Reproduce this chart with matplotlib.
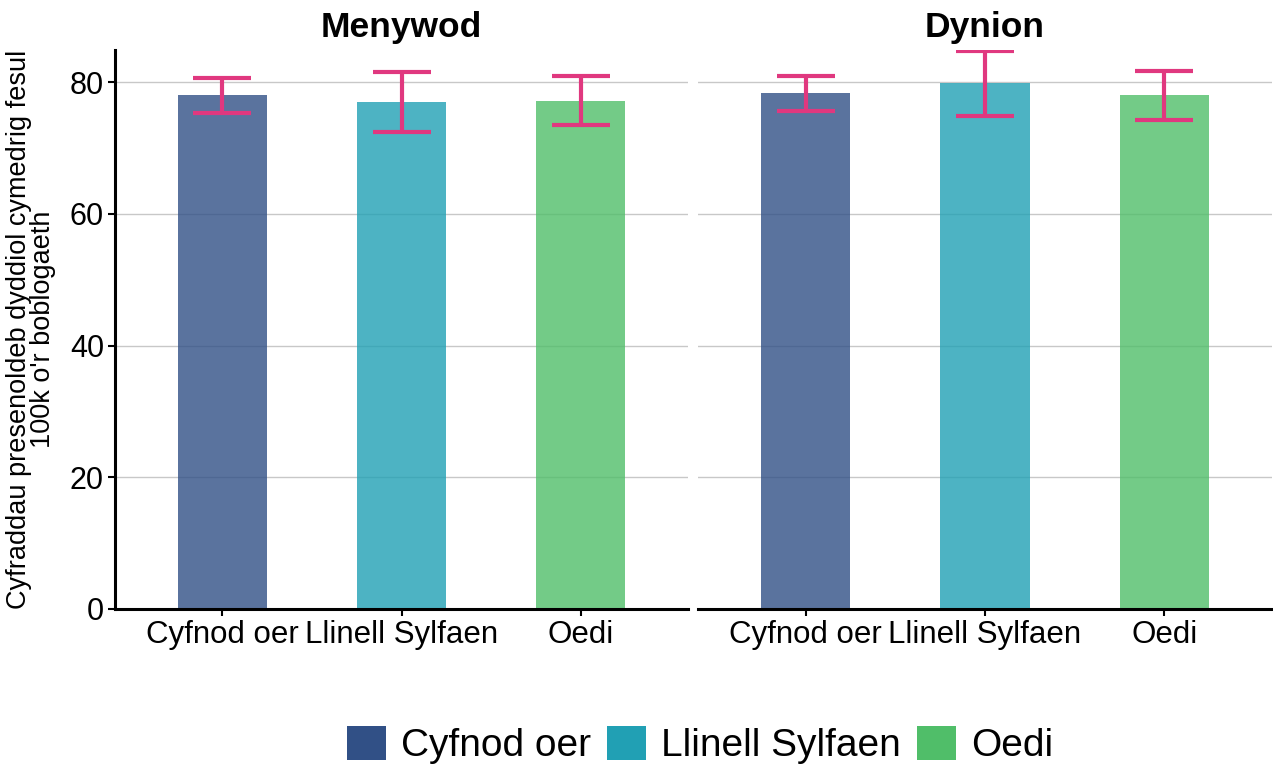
import matplotlib
import matplotlib.pyplot as plt
import numpy as np
from matplotlib.patches import Patch

matplotlib.use("Agg")

plt.rcParams["font.family"] = ["Liberation Sans", "DejaVu Sans"]

# data
panels = ["Menywod", "Dynion"]
categories = ["Cyfnod oer", "Llinell Sylfaen", "Oedi"]
means = {
    "Menywod": [78.0, 77.0, 77.2],
    "Dynion": [78.3, 79.95, 78.0],
}
lower = {
    "Menywod": [75.4, 72.4, 73.5],
    "Dynion": [75.7, 74.9, 74.3],
}
upper = {
    "Menywod": [80.7, 81.6, 80.9],
    "Dynion": [80.9, 84.7, 81.7],
}
y_ticks = [0, 20, 40, 60, 80]

colors = ["#315086", "#21A0B4", "#50BE69"]
err_color = "#E0387F"
W, H = 1273, 769

fig = plt.figure(figsize=(W / 100, H / 100), dpi=100)
ax_boxes = [(115, 573), (698, 574)]
top, bottom = 50, 609

for i, (name, (x0, w)) in enumerate(zip(panels, ax_boxes)):
    ax = fig.add_axes([x0 / W, 1 - bottom / H, w / W, (bottom - top) / H])
    x = np.arange(len(categories))
    m = np.array(means[name])
    lo = m - np.array(lower[name])
    hi = np.array(upper[name]) - m
    ax.bar(x, m, width=0.5, color=colors, alpha=0.8, zorder=2)
    ax.errorbar(x, m, yerr=[lo, hi], fmt="none", ecolor=err_color,
                elinewidth=3, capsize=21, capthick=3, zorder=3)
    ax.set_xlim(-0.6, 2.6)
    ax.set_ylim(0, 84.9)
    ax.set_yticks(y_ticks)
    ax.set_xticks(x)
    ax.set_xticklabels(categories, fontsize=22.5)
    ax.grid(axis="y", color="#C8C8C8", linewidth=1, zorder=0)
    ax.set_axisbelow(True)
    for s in ["top", "right"]:
        ax.spines[s].set_visible(False)
    ax.spines["bottom"].set_linewidth(2.2)
    ax.spines["left"].set_linewidth(2.2)
    ax.tick_params(axis="x", length=5, width=1.5, pad=3)
    ax.tick_params(axis="y", length=5, width=1.5, labelsize=22, pad=3)
    if i == 1:
        ax.spines["left"].set_visible(False)
        ax.tick_params(axis="y", left=False, labelleft=False)
    ax.set_title(name, fontsize=25.5, fontweight="bold", pad=9)

fig.text(31 / W, 1 - 329.5 / H,
         "Cyfraddau presenoldeb dyddiol cymedrig fesul\n100k o'r boblogaeth",
         rotation=90, ha="center", va="center", fontsize=19.5, linespacing=0.9)

handles = [Patch(facecolor=c, edgecolor="none") for c in colors]
fig.legend(handles, categories, loc="center", bbox_to_anchor=(700 / W, 1 - 745 / H),
           ncol=3, frameon=False, fontsize=28, handlelength=1.0, handleheight=1.0,
           handletextpad=0.4, columnspacing=0.4)

fig.savefig("out.png", dpi=100)
